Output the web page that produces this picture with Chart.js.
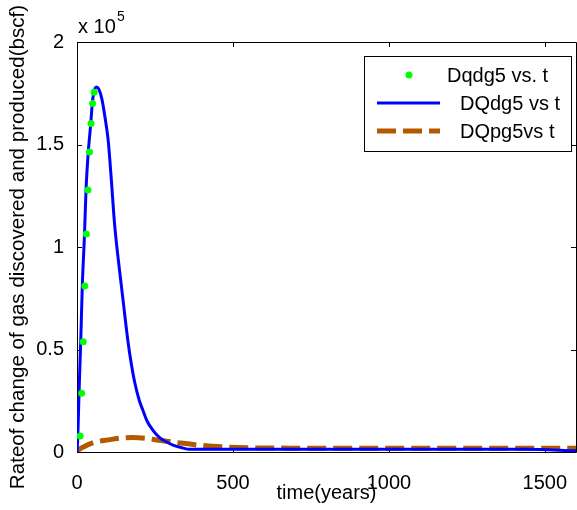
<!DOCTYPE html>
<html>
<head>
<meta charset="utf-8">
<title>Gas discovery and production rates</title>
<script src="https://cdn.jsdelivr.net/npm/chart.js@4.4.0/dist/chart.umd.min.js"></script>
<style>
  html, body { margin:0; padding:0; background:#fff; overflow:hidden; }
  #wrap { width:580px; height:510px; }
</style>
</head>
<body>
<div id="wrap"><canvas id="chart-gas" width="580" height="510"></canvas></div>
<script>
/* ── DATA (rates in units of 10^5 bscf) ───────────────────── */
// Dqdg5 – sampled discovery rate
const dotT   = [10, 15, 20, 25, 30, 35, 40, 45, 50, 55];
const dotVal = [0.078, 0.286, 0.538, 0.81, 1.063, 1.278, 1.463, 1.603, 1.70, 1.755];

// DQdg5 – discovery rate curve
const discT   = [0, 2, 4, 6, 8, 12, 17, 24, 29, 36, 44, 49, 54, 62, 70, 80, 90, 100, 110, 120, 130,
                 140, 150, 160, 170, 185, 200, 211, 225, 243, 265, 286, 310, 338, 360, 400, 1440, 1600];
const discVal = [0, 0.05, 0.15, 0.26, 0.36, 0.54, 0.81, 1.06, 1.28, 1.46, 1.60, 1.70, 1.755, 1.78, 1.77,
                 1.72, 1.63, 1.52, 1.33, 1.12, 0.97, 0.84, 0.71, 0.58, 0.47, 0.34, 0.25, 0.205, 0.15,
                 0.107, 0.07, 0.05, 0.032, 0.02, 0.013, 0.013, 0.013, 0.006];

// DQpg5 – production rate curve
const prodT   = [0, 5, 22, 50, 100, 140, 180, 220, 256, 325, 400, 480, 567, 650, 750, 900, 1200, 1600];
const prodVal = [0, 0.01, 0.026, 0.045, 0.059, 0.068, 0.071, 0.067, 0.059, 0.045, 0.032, 0.024, 0.02,
                 0.019, 0.018, 0.018, 0.018, 0.018];

const xTicks = [0, 500, 1000, 1500];
const yTicks = [0, 0.5, 1, 1.5, 2];
const seriesNames = ['Dqdg5 vs. t', 'DQdg5 vs t', 'DQpg5vs t'];

const FONT = 'Arial, "Liberation Sans", Helvetica, sans-serif';
const pts = (xs, ys) => xs.map((x, i) => ({ x, y: ys[i] }));

/* ── AXES BOX + INWARD TICKS (matlab style) ──────────────── */
const axesBox = {
  id: 'axesBox',
  beforeDatasetsDraw(chart) {
    const { ctx, chartArea: a, scales: { x, y } } = chart;
    const L = 5;
    ctx.save();
    ctx.strokeStyle = '#000';
    ctx.lineWidth = 1;
    ctx.beginPath();
    ctx.rect(a.left + 0.5, a.top + 0.5, a.right - a.left, a.bottom - a.top);
    xTicks.forEach(v => {
      const px = Math.round(x.getPixelForValue(v)) + 0.5;
      ctx.moveTo(px, a.bottom); ctx.lineTo(px, a.bottom - L);
      ctx.moveTo(px, a.top);    ctx.lineTo(px, a.top + L);
    });
    yTicks.forEach(v => {
      const py = Math.round(y.getPixelForValue(v)) + 0.5;
      ctx.moveTo(a.left, py);  ctx.lineTo(a.left + L, py);
      ctx.moveTo(a.right, py); ctx.lineTo(a.right - L, py);
    });
    ctx.stroke();
    ctx.restore();
  },
  afterDraw(chart) {
    const { ctx, chartArea: a } = chart;
    ctx.save();
    // exponent label above the y axis
    ctx.fillStyle = '#000';
    ctx.textBaseline = 'alphabetic';
    ctx.font = '20px ' + FONT;
    ctx.fillText('x 10', a.left + 1, 33);
    ctx.font = '14px ' + FONT;
    ctx.fillText('5', a.left + 40, 21);

    // legend
    const bx = 364, by = 56, bw = 207, bh = 95;
    ctx.fillStyle = '#fff';
    ctx.fillRect(bx, by, bw, bh);
    ctx.strokeStyle = '#000';
    ctx.lineWidth = 1;
    ctx.strokeRect(bx + 0.5, by + 0.5, bw, bh);

    const ds = chart.data.datasets;
    const rowY = [75, 103, 131];
    const textX = [447, 460, 460];
    ctx.font = '20px ' + FONT;
    ctx.textBaseline = 'middle';
    ds.forEach((d, i) => {
      const yy = rowY[i];
      if (d.showLine === false) {
        ctx.fillStyle = d.backgroundColor;
        ctx.beginPath();
        ctx.arc(409, yy, d.pointRadius, 0, Math.PI * 2);
        ctx.fill();
      } else {
        ctx.strokeStyle = d.borderColor;
        ctx.lineWidth = d.borderWidth;
        ctx.setLineDash(d.borderDash || []);
        ctx.beginPath();
        ctx.moveTo(377, yy);
        ctx.lineTo(440, yy);
        ctx.stroke();
        ctx.setLineDash([]);
      }
      ctx.fillStyle = '#000';
      ctx.fillText(d.label, textX[i], yy + 1);
    });
    ctx.restore();
  }
};

/* ── CHART ────────────────────────────────────────────────── */
new Chart(document.getElementById('chart-gas').getContext('2d'), {
  type: 'line',
  data: {
    datasets: [
      {
        label: seriesNames[0],
        data: pts(dotT, dotVal),
        showLine: false,
        pointRadius: 3.5,
        pointBorderWidth: 0,
        backgroundColor: '#00ff00',
        pointBackgroundColor: '#00ff00',
        order: 0,
      },
      {
        label: seriesNames[1],
        data: pts(discT, discVal),
        borderColor: '#0000ff',
        borderWidth: 3,
        pointRadius: 0,
        cubicInterpolationMode: 'monotone',
        fill: false,
        order: 1,
      },
      {
        label: seriesNames[2],
        data: pts(prodT, prodVal),
        borderColor: '#b35900',
        borderWidth: 5,
        borderDash: [19, 7],
        pointRadius: 0,
        cubicInterpolationMode: 'monotone',
        fill: false,
        order: 2,
      },
    ],
  },
  options: {
    responsive: false,
    animation: false,
    events: [],
    layout: { padding: { top: 42, left: 0, right: 0, bottom: 0 } },
    plugins: { legend: { display: false }, tooltip: { enabled: false } },
    scales: {
      x: {
        type: 'linear',
        min: 0, max: 1600,
        afterBuildTicks: s => { s.ticks = xTicks.map(v => ({ value: v })); },
        afterFit: s => { s.height = 58; },
        grid: { display: false },
        border: { display: false },
        ticks: {
          color: '#000', font: { family: FONT, size: 20 }, padding: 11, maxRotation: 0, autoSkip: false,
          callback: v => String(v),
        },
        title: { display: true, text: 'time(years)', color: '#000', font: { family: FONT, size: 20 }, padding: { top: 0, bottom: 5 } },
      },
      y: {
        type: 'linear',
        min: 0, max: 2,
        afterBuildTicks: s => { s.ticks = yTicks.map(v => ({ value: v })); },
        afterFit: s => { s.width = 77; },
        grid: { display: false },
        border: { display: false },
        ticks: {
          color: '#000', font: { family: FONT, size: 20 }, padding: 5, autoSkip: false,
          callback: v => String(v),
        },
        title: { display: true, text: 'Rateof change of gas discovered and produced(bscf)', color: '#000', font: { family: FONT, size: 20.6 }, padding: { top: 6, bottom: 0 } },
      },
    },
  },
  plugins: [axesBox],
});
</script>
</body>
</html>
